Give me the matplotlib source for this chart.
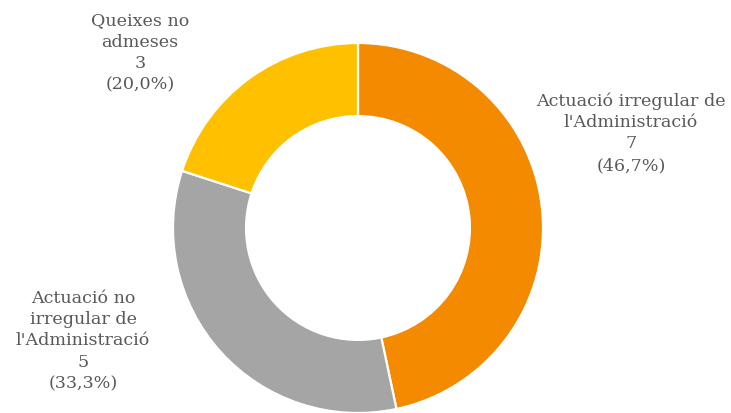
import matplotlib.pyplot as plt

categories = ["Actuació irregular de\nl'Administració",
              "Actuació no\nirregular de\nl'Administració",
              "Queixes no\nadmeses"]
counts = [7, 5, 3]
colors = ["#F38A00", "#A5A5A5", "#FFC000"]

# label anchor points in pixels (x from left, y of block centre from top)
label_pos = [(631, 133), (83, 341), (140, 53)]

W, H = 731, 414
fig = plt.figure(figsize=(W / 100, H / 100), dpi=100)
cx, cy, r = 358, 229, 185
ax = fig.add_axes([(cx - r) / W, (H - cy - r) / H, 2 * r / W, 2 * r / H])

ax.pie(counts, colors=colors, startangle=90, counterclock=False,
       radius=1.0, wedgeprops=dict(width=0.395, edgecolor="white", linewidth=1.6))
ax.set_xlim(-1, 1)
ax.set_ylim(-1, 1)
ax.set_aspect("equal")
ax.axis("off")

total = sum(counts)
for name, n, (px, py) in zip(categories, counts, label_pos):
    pct = f"{100 * n / total:.1f}".replace(".", ",")
    fig.text(px / W, 1 - py / H, f"{name}\n{n}\n({pct}%)",
             ha="center", va="center", multialignment="center",
             family="DejaVu Serif", fontsize=12.6, color="#595959",
             linespacing=1.34)

fig.savefig("out.png", dpi=100)
